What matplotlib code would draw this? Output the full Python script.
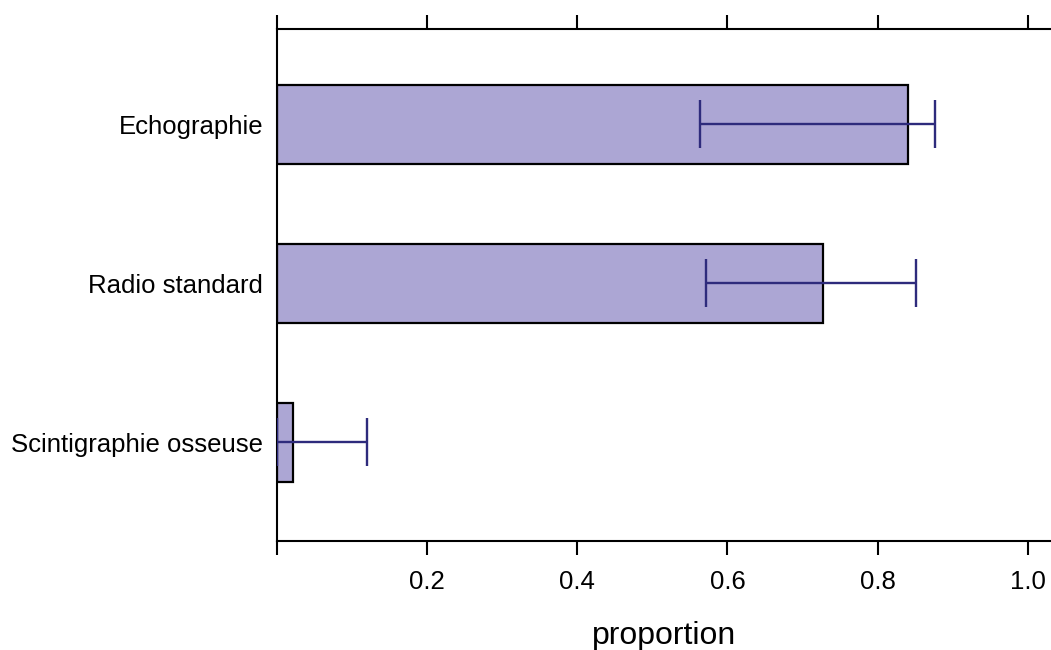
import matplotlib
matplotlib.use("Agg")
import matplotlib.pyplot as plt

categories = ["Scintigraphie osseuse", "Radio standard", "Echographie"]
proportion = [0.021, 0.727, 0.841]
ci_low = [0.0, 0.572, 0.564]
ci_high = [0.120, 0.851, 0.877]
x_ticks = [0.0, 0.2, 0.4, 0.6, 0.8, 1.0]
x_tick_labels = ["", "0.2", "0.4", "0.6", "0.8", "1.0"]

plt.rcParams['font.family'] = ['Liberation Sans', 'DejaVu Sans']

fig = plt.figure(figsize=(10.51, 6.5), dpi=100)
ax = fig.add_axes([277 / 1051, 109 / 650, (1051 - 277) / 1051, 512 / 650])

ypos = list(range(len(categories)))
ax.barh(ypos, proportion, height=0.5, color="#ACA6D4", edgecolor="black",
        linewidth=1.6, zorder=2)

xerr = [[p - lo for p, lo in zip(proportion, ci_low)],
        [hi - p for p, hi in zip(proportion, ci_high)]]
ax.errorbar(proportion, ypos, xerr=xerr, fmt="none", ecolor="#2E2B7C",
            elinewidth=1.7, capsize=17, capthick=1.7, zorder=3)

ax.set_xlim(0, 1.031)
ax.set_ylim(-0.62, 2.6)

ax.set_yticks(ypos)
ax.set_yticklabels(categories, fontsize=18.5)
ax.tick_params(axis="y", length=0, pad=10)

ax.set_xticks(x_ticks)
ax.set_xticklabels(x_tick_labels, fontsize=18.5)
ax.tick_params(axis="x", which="both", direction="out", length=10, width=1.5,
               top=True, labeltop=False, pad=11)

for side in ["left", "top", "bottom"]:
    ax.spines[side].set_linewidth(1.5)
ax.spines["right"].set_visible(False)

ax.set_xlabel("proportion", fontsize=23, labelpad=19)

fig.savefig("out.png", dpi=100)
